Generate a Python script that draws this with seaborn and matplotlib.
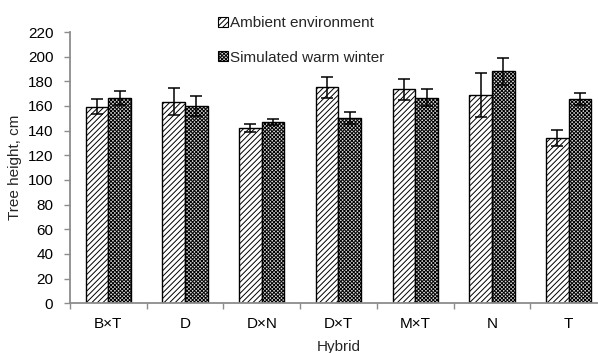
import matplotlib
matplotlib.use("Agg")
import matplotlib.pyplot as plt
import seaborn as sns
import pandas as pd
import numpy as np

hybrids = ["B×T", "D", "D×N", "D×T", "M×T", "N", "T"]
series = ["Ambient environment", "Simulated warm winter"]
ambient = [159.5, 163.5, 142, 175, 173.5, 169, 134]
ambient_err = [6, 11, 3.2, 8.3, 8.5, 18, 6.7]
warm = [166.3, 159.7, 146.8, 150.4, 166.8, 188, 165.8]
warm_err = [5.6, 8, 2.6, 5, 6.7, 11, 5]

sns.set_theme(style="white")
plt.rcParams['font.family'] = ['Liberation Sans', 'DejaVu Sans']
plt.rcParams['hatch.linewidth'] = 0.7

df = pd.DataFrame({
    "Hybrid": hybrids * 2,
    "Series": [series[0]] * len(hybrids) + [series[1]] * len(hybrids),
    "Height": ambient + warm,
})

fig = plt.figure(figsize=(5.98, 3.53), dpi=100)
ax = fig.add_axes([70/598, 49.7/353, 537/598, 271.3/353])

sns.barplot(data=df, x="Hybrid", y="Height", hue="Series", order=hybrids,
            hue_order=series, errorbar=None, width=0.59, ax=ax,
            palette=["white", "white"], edgecolor="black", linewidth=1.0,
            legend=False)

n = len(hybrids)
hatches = ["//////", "xxxxxxxxx"]
faces = ["white", "#d9d9d9"]
errs = [ambient_err, warm_err]
for i, p in enumerate(ax.patches[:2*n]):
    s = i // n
    p.set_hatch(hatches[s])
    p.set_facecolor(faces[s])
    cx = p.get_x() + p.get_width() / 2
    ax.errorbar(cx, p.get_height(), yerr=errs[s][i % n], color="black",
                capsize=4, elinewidth=1.1, capthick=1.1, fmt="none", zorder=5)

ax.set_ylim(0, 220)
ax.set_yticks(np.arange(0, 221, 20))
ax.set_xlim(-0.5, n - 0.5)
ax.set_xticks(np.arange(-0.5, n, 1.0), minor=True)
ax.tick_params(axis="x", which="major", length=0, pad=10, labelsize=11, colors="black")
ax.tick_params(axis="x", which="minor", length=4, width=1, color="#8c8c8c", direction="out")
ax.tick_params(axis="y", length=4, width=1, color="#8c8c8c", direction="out", pad=8, labelsize=11, labelcolor="black")
ax.tick_params(axis="y", which="major", left=True)
ax.tick_params(axis="x", which="minor", bottom=True)

for side in ["top", "right"]:
    ax.spines[side].set_visible(False)
for side in ["left", "bottom"]:
    ax.spines[side].set_color("#8c8c8c")
    ax.spines[side].set_linewidth(1.3)

ax.set_xlabel("Hybrid", fontsize=11, labelpad=6)
ax.set_ylabel("Tree height, cm", fontsize=11, labelpad=4)

from matplotlib.patches import Patch
handles = [Patch(facecolor=faces[0], edgecolor="black", hatch=hatches[0], linewidth=0.8),
           Patch(facecolor=faces[1], edgecolor="black", hatch=hatches[1], linewidth=0.8)]
fig.legend(handles, series, loc="upper left", bbox_to_anchor=(218/598, 1 - 16/353),
           frameon=False, fontsize=11, handlelength=0.65, handleheight=0.65,
           handletextpad=0.15, labelspacing=1.35, borderpad=0, borderaxespad=0)

fig.savefig("out.png", dpi=100)
